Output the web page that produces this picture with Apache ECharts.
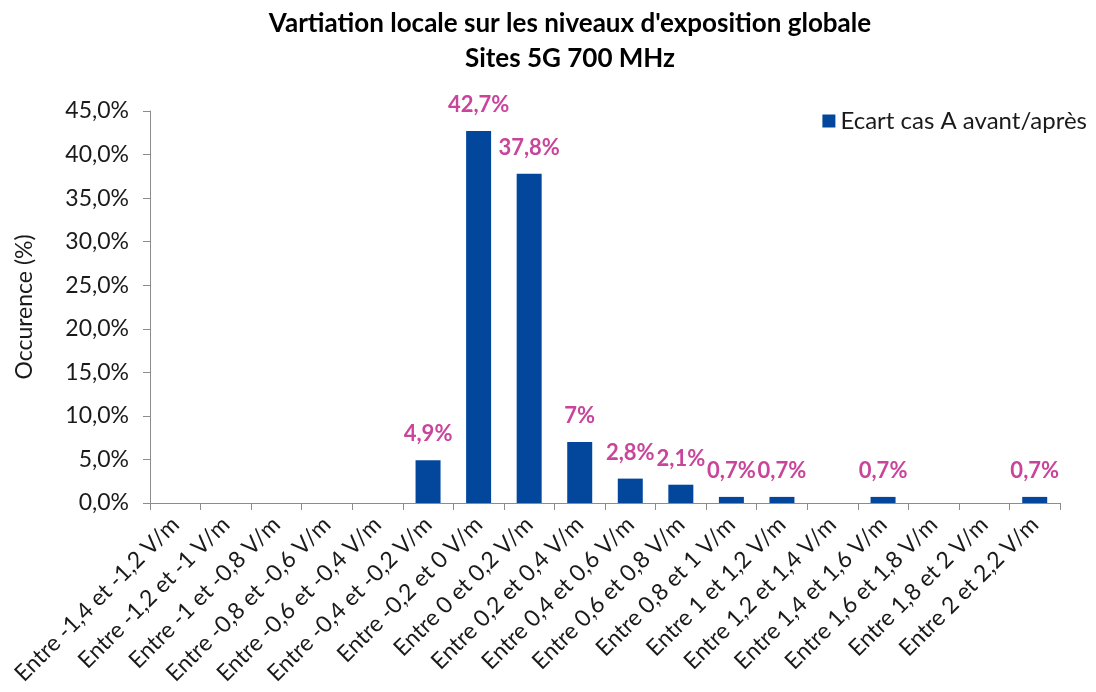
<!DOCTYPE html>
<html>
<head>
<meta charset="utf-8">
<script src="https://cdn.jsdelivr.net/npm/echarts@6/dist/echarts.min.js"></script>
<style>
  html, body { margin: 0; padding: 0; background: #fff; }
  #chart { width: 1096px; height: 692px; }
</style>
</head>
<body>
<div id="chart"></div>
<script>
// Intervalles de variation du champ (V/m)
const categories = [
  'Entre -1,4 et -1,2 V/m', 'Entre -1,2 et -1 V/m', 'Entre -1 et -0,8 V/m',
  'Entre -0,8 et -0,6 V/m', 'Entre -0,6 et -0,4 V/m', 'Entre -0,4 et -0,2 V/m',
  'Entre -0,2 et 0 V/m', 'Entre 0 et 0,2 V/m', 'Entre 0,2 et 0,4 V/m',
  'Entre 0,4 et 0,6 V/m', 'Entre 0,6 et 0,8 V/m', 'Entre 0,8 et 1 V/m',
  'Entre 1 et 1,2 V/m', 'Entre 1,2 et 1,4 V/m', 'Entre 1,4 et 1,6 V/m',
  'Entre 1,6 et 1,8 V/m', 'Entre 1,8 et 2 V/m', 'Entre 2 et 2,2 V/m'
];
// Occurrence (%) de chaque intervalle
const ecartValues = [0, 0, 0, 0, 0, 4.9, 42.7, 37.8, 7, 2.8, 2.1, 0.7, 0.7, 0, 0.7, 0, 0, 0.7];
const seriesName = 'Ecart cas A avant/après';
const titleLines = ['Vartiation locale sur les niveaux d\'exposition globale', 'Sites 5G 700 MHz'];

const textFont = 'Lato, "Open Sans", sans-serif';
const chart = echarts.init(document.getElementById('chart'));

chart.setOption({
  animation: false,
  title: {
    text: titleLines.join('\n'),
    left: 565,
    top: 1,
    textAlign: 'center',
    textStyle: {
      fontFamily: textFont,
      fontWeight: 'bold',
      fontSize: 26,
      lineHeight: 35,
      color: '#000'
    }
  },
  legend: {
    right: 4,
    top: 104,
    itemWidth: 13,
    itemHeight: 13,
    itemGap: 8,
    icon: 'rect',
    textStyle: { fontFamily: textFont, fontSize: 24, color: '#1a1a1a' },
    data: [seriesName]
  },
  grid: { left: 150, right: 36, top: 111, bottom: 189 },
  xAxis: {
    type: 'category',
    data: categories,
    axisLine: { lineStyle: { color: '#8c8c8c', width: 1 } },
    axisTick: { show: true, length: 7, alignWithLabel: false, lineStyle: { color: '#8c8c8c' } },
    axisLabel: {
      rotate: 45,
      interval: 0,
      margin: 18,
      fontFamily: textFont,
      fontSize: 23,
      color: '#1a1a1a'
    }
  },
  yAxis: {
    type: 'value',
    min: 0,
    max: 45,
    interval: 5,
    name: 'Occurence (%)',
    nameLocation: 'middle',
    nameGap: 114,
    nameTextStyle: { fontFamily: textFont, fontSize: 23, color: '#1a1a1a' },
    axisLine: { show: true, lineStyle: { color: '#8c8c8c', width: 1 } },
    axisTick: { show: true, length: 7, lineStyle: { color: '#8c8c8c' } },
    splitLine: { show: false },
    axisLabel: {
      margin: 21,
      fontFamily: textFont,
      fontSize: 23,
      color: '#1a1a1a',
      formatter: v => v.toFixed(1).replace('.', ',') + '%'
    }
  },
  series: [{
    name: seriesName,
    type: 'bar',
    data: ecartValues,
    barWidth: 25,
    itemStyle: { color: '#03479C' },
    label: {
      show: true,
      position: 'top',
      distance: 15,
      fontFamily: textFont,
      fontWeight: 'bold',
      fontSize: 22,
      color: '#C9449B',
      formatter: p => p.value === 0 ? '' : String(p.value).replace('.', ',') + '%'
    }
  }]
});
</script>
</body>
</html>
